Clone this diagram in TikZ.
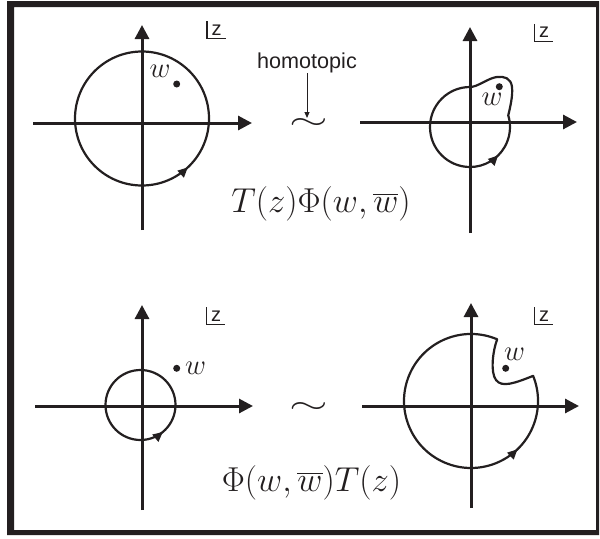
\documentclass[tikz,border=0pt]{standalone}
\usepackage{fontspec}
\newfontfamily\helv{Liberation Sans}
\usepackage{graphicx}
\definecolor{figink}{RGB}{35,31,32}
\usetikzlibrary{arrows.meta,positioning,decorations.markings}

\begin{document}
\begin{tikzpicture}[x=0.5pt,y=0.5pt,color=figink,
  planeaxis/.style={-{Triangle[length=7pt,width=7pt]},line width=1.5pt},
  contour/.style={line width=1.1pt,line join=round,
    decoration={markings,mark=at position #1 with {\arrow{Triangle[length=5pt,width=4.5pt]}}},
    postaction={decorate}},
  wdot/.style={circle,fill=figink,inner sep=0pt,minimum size=3.5pt},
  wlab/.style={inner sep=0pt,font=\fontsize{15}{18}\selectfont},
  zbox/.style={inner xsep=2pt,inner ysep=1.5pt,font=\fontsize{10}{12}\selectfont\helv},
  zline/.style={line width=0.65pt},
  formula/.style={anchor=base,inner sep=0pt,font=\fontsize{17.6}{22}\selectfont},
  tildesym/.style={anchor=north,inner sep=0pt,font=\fontsize{25}{30}\selectfont},
  homarr/.style={-{Triangle[length=3pt,width=2.5pt]},line width=0.5pt}
]
  \useasboundingbox (0,0) rectangle (600,538);
  % Frame
  \fill[even odd rule] (7,3) rectangle (599,537) (14,8) rectangle (596,531);

  % Plane 1: circle round w
  \draw[planeaxis] (33,415) -- (252,415);
  \draw[planeaxis] (142,308) -- (142,513);
  \draw[contour=0.87] (142,419.5) circle[radius=67];
  \node[wdot] (dotA) at (176.7,454) {};
  \node[wlab] (wA) at (160,466.5) {$w$};
  \node[zbox] (zA) at (216.5,508) {z};
  \draw[zline] (zA.north west) |- (zA.south east);

  % Homotopic
  \node[font=\fontsize{10.8}{13}\selectfont\helv,inner sep=0pt] (homot) at (307,475) {homotopic};
  \node[tildesym] (tildeA) at (308.5,420) {\scalebox{1}[0.6]{$\sim$}};
  \draw[homarr] (homot.south) -- (homot.south |- tildeA.north);

  % Plane 2: contour pulled round w
  \draw[planeaxis] (360,416) -- (577,416);
  \draw[planeaxis] (470,305) -- (470,511);
  \draw[contour=78.5pt] (470,451) arc[start angle=90,end angle=377,radius=40]
    .. controls (510,430) and (513,442) .. (512,451)
    .. controls (511,460) and (504,462) .. (497,461)
    .. controls (488,460) and (478,451) .. (470,451) -- cycle;
  \node[wdot] (dotB) at (499.3,451.3) {};
  \node[wlab] (wB) at (492,438.5) {$w$};
  \node[zbox] (zB) at (544,505.5) {z};
  \draw[zline] (zB.north west) |- (zB.south east);

  \node[formula] (opA) at (321,326) {$T(z)\Phi(w,\overline{w})$};

  % Plane 3: small circle, w outside
  \draw[planeaxis] (35,132) -- (253,132);
  \draw[planeaxis] (142,28) -- (142,233);
  \draw[contour=0.861] (140.5,133) circle[radius=35];
  \node[wdot] (dotC) at (176.7,169.7) {};
  \node[wlab,right=2pt of dotC] (wC) {$w$};
  \node[zbox] (zC) at (216,222) {z};
  \draw[zline] (zC.north west) |- (zC.south east);

  \node[tildesym] (tildeB) at (308.5,135.5) {\scalebox{1}[0.6]{$\sim$}};

  % Plane 4: big circle with bite round w
  \draw[planeaxis] (362,132) -- (579,132);
  \draw[planeaxis] (471,30) -- (471,235);
  \draw[contour=144.4pt] (497.2,198.7) arc[start angle=67,end angle=382,radius=67]
    .. controls (515,155) and (502,150) .. (496,158)
    .. controls (490,166) and (493,188) .. (497.2,198.7) -- cycle;
  \node[wdot] (dotD) at (505.7,169.7) {};
  \node[wlab] (wD) at (514.5,184) {$w$};
  \node[zbox] (zD) at (544,222) {z};
  \draw[zline] (zD.north west) |- (zD.south east);

  \node[formula] (opB) at (311.5,47) {$\Phi(w,\overline{w})T(z)$};
\end{tikzpicture}
\end{document}
